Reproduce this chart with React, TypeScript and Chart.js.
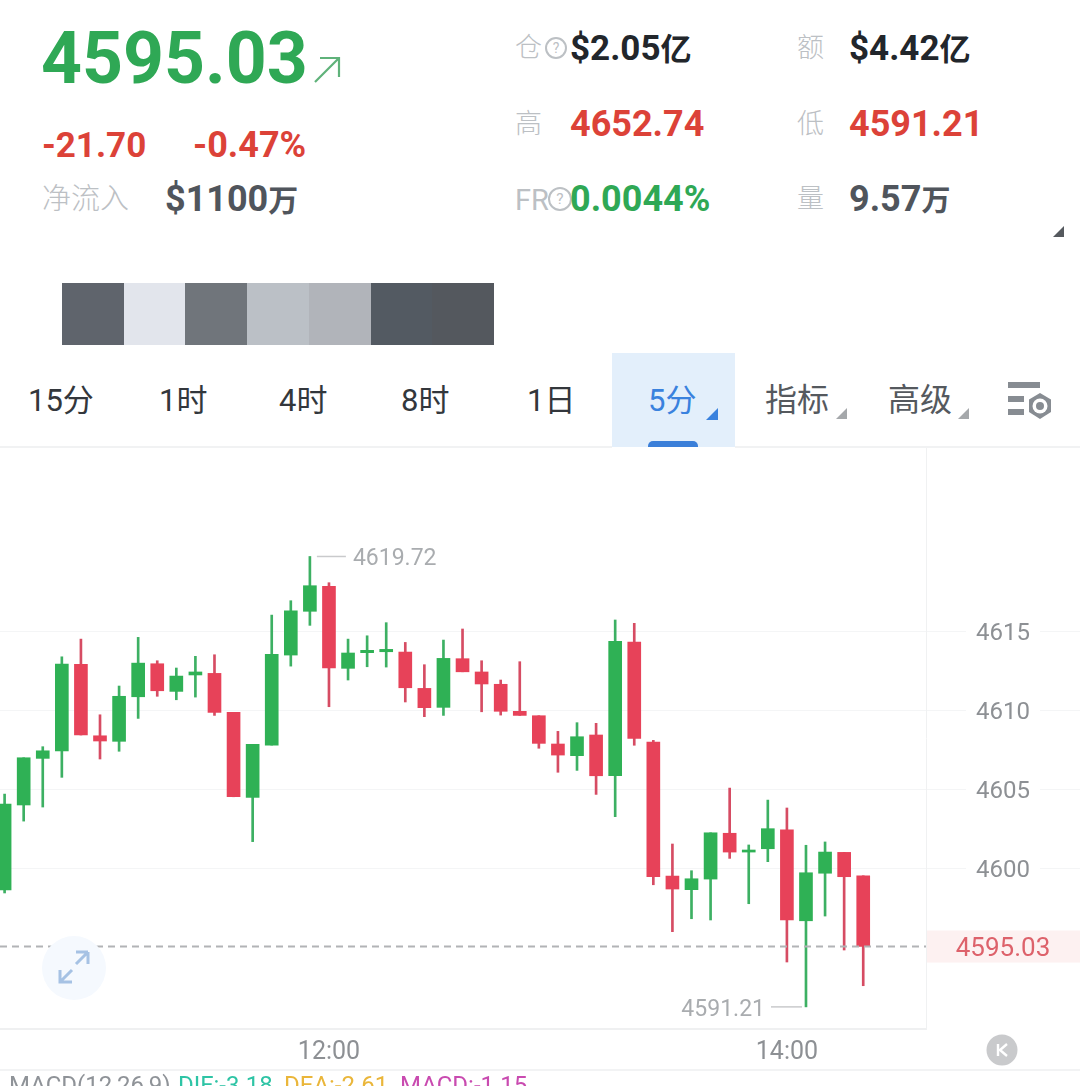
import React, { useEffect, useRef } from "react";
import { Chart, registerables } from "chart.js";

Chart.register(...registerables);

// Time axis: one candle every 5 minutes, index 17 = 12:00, index 41 = 14:00
const timeLabels = ["10:35","10:40","10:45","10:50","10:55","11:00","11:05","11:10","11:15","11:20","11:25","11:30","11:35","11:40","11:45","11:50","11:55","12:00","12:05","12:10","12:15","12:20","12:25","12:30","12:35","12:40","12:45","12:50","12:55","13:00","13:05","13:10","13:15","13:20","13:25","13:30","13:35","13:40","13:45","13:50","13:55","14:00","14:05","14:10","14:15","14:20"];
const xTickIndexes = [17, 41];
const yTickValues = [4600, 4605, 4610, 4615];

const opens = [4598.61,4603.99,4606.94,4607.41,4612.89,4608.37,4608.02,4610.84,4612.93,4611.18,4612.22,4612.32,4609.85,4604.47,4607.78,4613.48,4616.25,4617.83,4612.64,4613.63,4613.69,4613.67,4611.37,4610.17,4613.25,4612.41,4611.63,4609.92,4609.64,4607.85,4607.11,4608.42,4605.84,4614.30,4607.97,4599.49,4598.63,4599.30,4602.20,4601.01,4601.22,4602.42,4596.66,4599.67,4600.99,4599.51];
const highs = [4604.68,4606.98,4607.68,4613.37,4614.49,4609.70,4611.52,4614.60,4613.12,4612.66,4613.40,4613.50,4609.85,4607.83,4616.01,4616.92,4619.72,4618.06,4614.49,4614.70,4615.53,4614.28,4612.87,4614.43,4615.13,4613.12,4611.90,4613.06,4609.64,4608.65,4609.20,4609.16,4615.70,4615.49,4608.08,4601.52,4599.83,4602.23,4605.06,4601.46,4604.30,4603.80,4601.44,4601.65,4600.99,4599.51];
const lows = [4598.42,4602.97,4603.86,4605.74,4608.42,4606.90,4607.39,4609.47,4610.87,4610.65,4610.82,4609.66,4604.51,4601.67,4607.78,4612.78,4615.36,4610.21,4611.90,4612.74,4612.72,4610.51,4609.58,4609.66,4612.42,4609.89,4609.68,4609.66,4607.58,4606.06,4606.18,4604.66,4603.25,4607.77,4598.94,4595.97,4596.79,4596.71,4600.61,4597.74,4600.40,4594.05,4591.21,4596.96,4594.81,4592.55];
const closes = [4604.05,4606.98,4607.42,4612.91,4608.42,4608.04,4610.87,4612.97,4611.22,4612.15,4612.41,4609.85,4604.51,4607.83,4613.53,4616.28,4617.87,4612.66,4613.61,4613.78,4613.84,4611.41,4610.15,4613.27,4612.42,4611.65,4609.92,4609.66,4607.89,4607.15,4608.31,4605.84,4614.35,4608.21,4599.45,4598.67,4599.32,4602.23,4601.01,4601.14,4602.49,4596.71,4599.70,4601.01,4599.45,4595.03];

const lastPrice = 4595.03;
const maxPrice = 4619.72;
const minPrice = 4591.21;
const maxIndex = 16;
const minIndex = 42;

const UP = "#2fb155";
const DOWN = "#e74259";
const UP_WICK = "#3db063";
const DOWN_WICK = "#d64c63";
const LATIN = "Roboto, 'Noto Sans CJK SC', sans-serif";

const priceOverlay = {
  id: "priceOverlay",
  afterDatasetsDraw(chart: any) {
    const { ctx, chartArea, scales } = chart;
    const y = scales.y;
    const x = scales.x;
    const py = y.getPixelForValue(lastPrice);
    ctx.save();
    ctx.strokeStyle = "#b2b3b6";
    ctx.lineWidth = 2;
    ctx.setLineDash([7, 5]);
    ctx.beginPath();
    ctx.moveTo(chartArea.left, py);
    ctx.lineTo(chartArea.right, py);
    ctx.stroke();
    ctx.setLineDash([]);

    ctx.fillStyle = "#fdf1f1";
    ctx.fillRect(chartArea.right + 1, py - 16, chart.width - chartArea.right, 32);
    ctx.fillStyle = "#dd626b";
    ctx.font = `400 26px ${LATIN}`;
    ctx.textAlign = "center";
    ctx.textBaseline = "middle";
    ctx.fillText(lastPrice.toFixed(2), 1003, py + 3);

    ctx.font = `400 23px ${LATIN}`;
    ctx.fillStyle = "#a9acaf";
    ctx.strokeStyle = "#c9cacc";
    ctx.lineWidth = 1.5;
    const hx = x.getPixelForValue(maxIndex);
    const hy = y.getPixelForValue(maxPrice);
    ctx.beginPath();
    ctx.moveTo(hx + 7, hy);
    ctx.lineTo(hx + 36, hy);
    ctx.stroke();
    ctx.textAlign = "left";
    ctx.fillText(maxPrice.toFixed(2), hx + 43, hy + 3);

    const lx = x.getPixelForValue(minIndex);
    const ly = y.getPixelForValue(minPrice);
    ctx.beginPath();
    ctx.moveTo(lx - 4, ly);
    ctx.lineTo(lx - 35, ly);
    ctx.stroke();
    ctx.textAlign = "right";
    ctx.fillText(minPrice.toFixed(2), lx - 41, ly + 3);
    ctx.restore();
  },
};

function T(p: { x: number; y: number; s: number; c: string; w?: number; children: any }) {
  return (
    <div
      style={{
        position: "absolute",
        left: p.x,
        top: p.y - p.s / 2,
        fontSize: p.s,
        lineHeight: `${p.s}px`,
        color: p.c,
        fontWeight: p.w ?? 400,
        fontFamily: LATIN,
        whiteSpace: "nowrap",
      }}
    >
      {p.children}
    </div>
  );
}

function Block(p: { x: number; y: number; w: number; h: number; c: string; extra?: any }) {
  return <div style={{ position: "absolute", left: p.x, top: p.y, width: p.w, height: p.h, background: p.c, ...p.extra }} />;
}

const blocks = [
  [62, 62, "#5f646c"],
  [124, 61, "#e2e5ec"],
  [185, 62, "#70757b"],
  [247, 62, "#bbc0c6"],
  [309, 62, "#b1b4ba"],
  [371, 61, "#535a62"],
  [432, 62, "#54585e"],
] as const;

const GREEN = "#2fa855";
const RED = "#dc4238";
const MUTED = "#bcc0c4";
const SLATE = "#50555c";
const INK = "#22262b";

function Corner(p: { x: number; y: number; s: number; c: string }) {
  return <Block x={p.x} y={p.y} w={p.s} h={p.s} c={p.c} extra={{ clipPath: "polygon(100% 0, 100% 100%, 0 100%)" }} />;
}

function Help(p: { cx: number; cy: number; r: number }) {
  return (
    <svg style={{ position: "absolute", left: p.cx - p.r - 2, top: p.cy - p.r - 2 }} width={p.r * 2 + 4} height={p.r * 2 + 4}>
      <circle cx={p.r + 2} cy={p.r + 2} r={p.r} fill="none" stroke={MUTED} strokeWidth="2" />
      <text x={p.r + 2} y={p.r + 7} textAnchor="middle" fontSize={p.r * 1.4} fill={MUTED} fontFamily="Roboto">?</text>
    </svg>
  );
}

export default function App() {
  const ref = useRef<HTMLCanvasElement>(null);

  useEffect(() => {
    const chart = new Chart(ref.current as HTMLCanvasElement, {
      type: "bar",
      data: {
        datasets: [
          {
            label: "wick",
            data: highs.map((h, i) => ({ x: i, y: [lows[i], h] })),
            backgroundColor: closes.map((c, i) => (c >= opens[i] ? UP_WICK : DOWN_WICK)),
            barThickness: 2,
            grouped: false,
            borderWidth: 0,
            order: 2,
          },
          {
            label: "body",
            data: opens.map((o, i) => ({ x: i, y: [o, closes[i]] })),
            backgroundColor: closes.map((c, i) => (c >= opens[i] ? UP : DOWN)),
            barThickness: 13,
            grouped: false,
            borderWidth: 0,
            order: 1,
          },
        ] as any,
      },
      options: {
        responsive: false,
        animation: false,
        layout: { padding: 0 },
        plugins: { legend: { display: false }, tooltip: { enabled: false }, title: { display: false } },
        scales: {
          x: {
            type: "linear",
            position: "bottom",
            offset: false,
            min: -0.241,
            max: 48.29,
            grid: { display: false, offset: false },
            border: { color: "#eff0f1", width: 2 },
            ticks: {
              padding: 1,
              color: "#8d9094",
              font: { family: "Roboto", size: 25, weight: "400" },
              callback: (v: any) => timeLabels[v as number] ?? "",
              maxRotation: 0,
              autoSkip: false,
            },
            afterBuildTicks: (s: any) => {
              s.ticks = xTickIndexes.map((value) => ({ value }));
            },
            afterFit: (s: any) => {
              s.height = 57;
              s.paddingLeft = 0;
              s.paddingRight = 0;
            },
          },
          y: {
            type: "linear",
            position: "right",
            min: 4589.81,
            max: 4626.65,
            grid: { color: "#f4f5f6", tickColor: "#f4f5f6", tickLength: 154, lineWidth: 1 },
            border: { color: "#f0f1f2", width: 1 },
            ticks: {
              padding: -104,
              crossAlign: "near",
              labelOffset: 2.5,
              color: "#8d9094",
              font: { family: "Roboto", size: 24, weight: "400" },
              showLabelBackdrop: true,
              backdropColor: "#ffffff",
              backdropPadding: { x: 10, y: 2 },
              callback: (v: any) => String(v),
            },
            afterBuildTicks: (s: any) => {
              s.ticks = yTickValues.map((value) => ({ value }));
            },
            afterFit: (s: any) => {
              s.width = 154;
              s.paddingTop = 0;
              s.paddingBottom = 0;
            },
          },
        },
      } as any,
      plugins: [priceOverlay],
    });
    return () => chart.destroy();
  }, []);

  return (
    <div style={{ position: "relative", width: 1080, height: 1086, overflow: "hidden", background: "#fff" }}>
      <style>{"html,body{margin:0;padding:0;background:#fff}"}</style>

      <T x={41} y={58.5} s={71.5} c={GREEN} w={700}>4595.03</T>
      <svg style={{ position: "absolute", left: 312, top: 55 }} width="30" height="30">
        <path d="M3 27 L26 4 M8 3 H27 V22" fill="none" stroke="#5fb27a" strokeWidth="2.2" />
      </svg>
      <T x={42} y={145} s={35} c={RED} w={700}>-21.70</T>
      <T x={193} y={145} s={36} c={RED} w={700}>-0.47%</T>
      <T x={42} y={199} s={29} c={MUTED} w={300}>净流入</T>
      <T x={165} y={199} s={36} c={SLATE} w={700}>$1100<span style={{ fontSize: 30 }}>万</span></T>

      <T x={515} y={48} s={27} c={MUTED} w={300}>仓</T>
      <Help cx={556} cy={48} r={10} />
      <T x={570} y={48} s={35} c={INK} w={700}>$2.05<span style={{ fontSize: 31 }}>亿</span></T>
      <T x={797} y={48} s={27} c={MUTED} w={300}>额</T>
      <T x={849} y={48} s={35} c={INK} w={700}>$4.42<span style={{ fontSize: 31 }}>亿</span></T>
      <T x={515} y={124} s={27} c={MUTED} w={300}>高</T>
      <T x={570} y={124} s={36} c={RED} w={700}>4652.74</T>
      <T x={797} y={124} s={27} c={MUTED} w={300}>低</T>
      <T x={849} y={124} s={36} c={RED} w={700}>4591.21</T>
      <T x={515} y={200} s={29} c={MUTED} w={400}>FR</T>
      <Help cx={560} cy={199} r={11} />
      <T x={570} y={199} s={36} c={GREEN} w={700}>0.0044%</T>
      <T x={797} y={199} s={27} c={MUTED} w={300}>量</T>
      <T x={849} y={199} s={36} c={SLATE} w={700}>9.57<span style={{ fontSize: 29 }}>万</span></T>
      <Corner x={1053} y={226} s={11} c="#55595e" />

      {blocks.map(([x, w, c]) => (
        <Block key={x} x={x} y={283} w={w} h={62} c={c} />
      ))}

      <Block x={612} y={353} w={123} h={94} c="#e3effb" />
      <Block x={648} y={441} w={50} h={6} c="#3b7fd9" extra={{ borderRadius: "5px 5px 0 0" }} />
      <T x={28} y={400} s={31} c="#33373c">15分</T>
      <T x={159} y={400} s={31} c="#33373c">1时</T>
      <T x={279} y={400} s={31} c="#33373c">4时</T>
      <T x={401} y={400} s={31} c="#33373c">8时</T>
      <T x={527} y={400} s={31} c="#33373c">1日</T>
      <T x={648} y={400} s={31} c="#3a82de">5分</T>
      <T x={765} y={400} s={32} c="#55595e">指标</T>
      <T x={888} y={400} s={32} c="#55595e">高级</T>
      <Corner x={706} y={408} s={12} c="#3a82de" />
      <Corner x={836} y={408} s={11} c="#a5a8ab" />
      <Corner x={958} y={408} s={11} c="#a5a8ab" />
      <svg style={{ position: "absolute", left: 1004, top: 378 }} width="52" height="44">
        <rect x="4" y="4" width="32" height="6" fill="#878c92" />
        <rect x="4" y="18" width="16" height="6" fill="#878c92" />
        <rect x="4" y="31" width="16" height="6" fill="#878c92" />
        <path d="M36 15 L47 21.5 V34 L36 41 L25 34 V21.5 Z" fill="#878c92" />
        <circle cx="36" cy="28" r="7.5" fill="#fff" />
        <circle cx="36" cy="28" r="4" fill="#878c92" />
      </svg>

      <canvas ref={ref} width={1080} height={639} style={{ position: "absolute", left: 0, top: 447, display: "block" }} />
      <Block x={0} y={446} w={612} h={2} c="#f1f2f3" />
      <Block x={735} y={446} w={345} h={2} c="#f1f2f3" />

      <svg style={{ position: "absolute", left: 38, top: 932 }} width="72" height="72">
        <circle cx="36" cy="36" r="32" fill="#f5f9fe" />
        <path d="M22 38 V50 H34 M22 50 L34 38 M50 20 H38 M50 20 V32 M50 20 L38 32" fill="none" stroke="#a6c2e4" strokeWidth="3" />
      </svg>

      <svg style={{ position: "absolute", left: 986, top: 1034 }} width="32" height="32">
        <circle cx="16" cy="16" r="15.5" fill="#c9cacc" />
        <path d="M12 10 V22 M21 10 L14 16 L21 22" fill="none" stroke="#fff" strokeWidth="2.4" />
      </svg>

      <Block x={0} y={1069} w={1080} h={2} c="#f2f3f4" />
      <T x={9} y={1085} s={24} c="#8f9398">MACD(12,26,9)</T>
      <T x={178} y={1085} s={24} c="#2ec4a5">DIF:-3.18</T>
      <T x={284} y={1085} s={24} c="#eab63a">DEA:-2.61</T>
      <T x={400} y={1085} s={24} c="#c94bb0">MACD:-1.15</T>
    </div>
  );
}
